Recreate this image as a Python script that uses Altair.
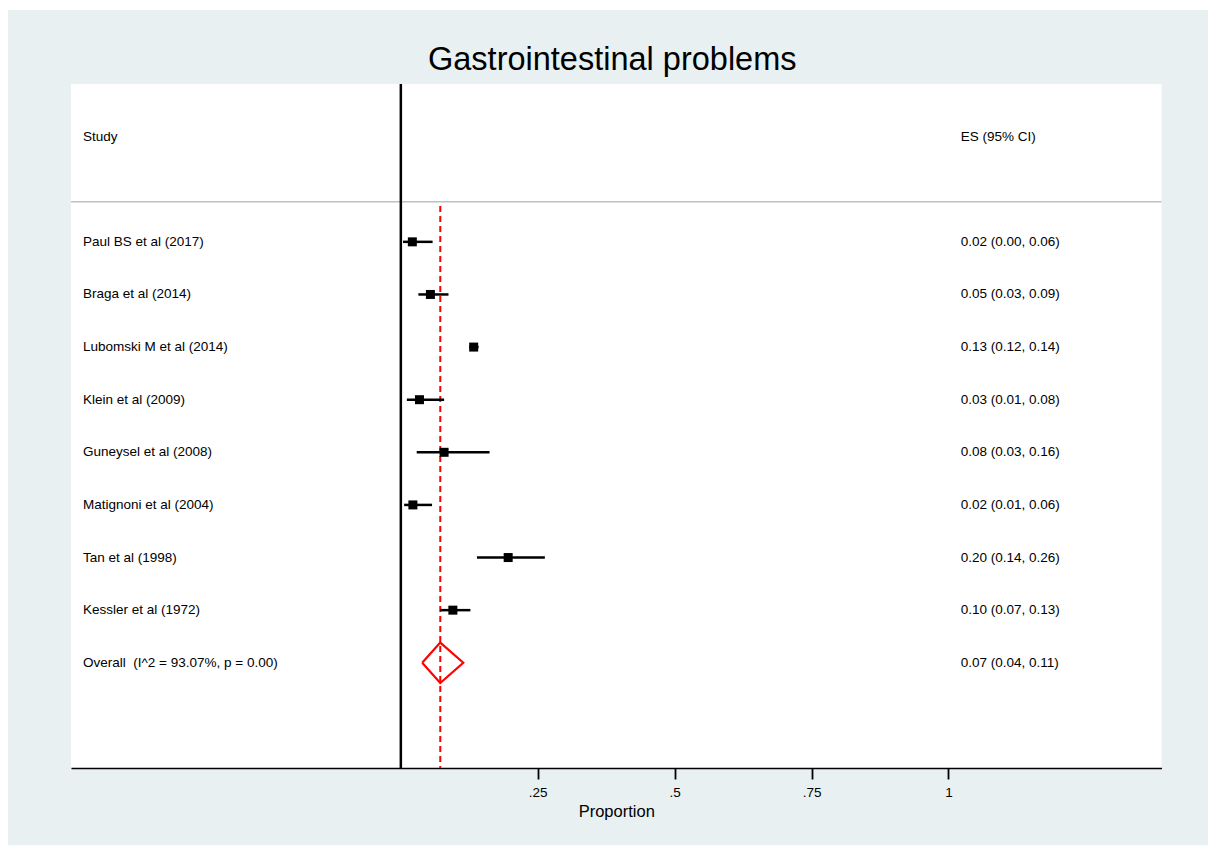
import altair as alt
import pandas as pd

# ---------------- data ----------------
STUDIES = ["Paul BS et al (2017)", "Braga et al (2014)", "Lubomski M et al (2014)",
           "Klein et al (2009)", "Guneysel et al (2008)", "Matignoni et al (2004)",
           "Tan et al (1998)", "Kessler et al (1972)"]
ES = [0.021, 0.054, 0.133, 0.034, 0.079, 0.022, 0.196, 0.095]
LO = [0.004, 0.032, 0.125, 0.011, 0.029, 0.006, 0.139, 0.072]
HI = [0.058, 0.087, 0.142, 0.079, 0.162, 0.057, 0.263, 0.127]
ES_LABELS = ["0.02 (0.00, 0.06)", "0.05 (0.03, 0.09)", "0.13 (0.12, 0.14)",
             "0.03 (0.01, 0.08)", "0.08 (0.03, 0.16)", "0.02 (0.01, 0.06)",
             "0.20 (0.14, 0.26)", "0.10 (0.07, 0.13)"]
OVERALL_NAME = "Overall \u00a0(I^2 = 93.07%, p = 0.00)"
OVERALL_ES = 0.072
OVERALL_LO = 0.039
OVERALL_HI = 0.114
OVERALL_LABEL = "0.07 (0.04, 0.11)"
HEADERS = ["Study", "ES (95% CI)"]
TICK_VALUES = [0.25, 0.5, 0.75, 1]
TICK_LABELS = [".25", ".5", ".75", "1"]
TITLE = "Gastrointestinal problems"
X_TITLE = "Proportion"

# ---------------- layout constants ----------------
FONT = "Liberation Sans"
W, H = 1090.5, 684
PAD_L, PAD_T, PAD_R, PAD_B = 71, 84, 46.5, 77
XMIN, XMAX = -0.6023, 1.389
YMIN, YMAX = -2, 11
STUDY_X = -0.5804
ES_X = 1.0225
HEADER_ROW = -1
HEADER_LINE_ROW = 0.24
OVERALL_ROW = 9
DIAMOND_HALF = 0.384
PANEL = "#e8f0f2"

rows = list(range(1, len(STUDIES) + 1))
studies = pd.DataFrame({"row": rows, "study": STUDIES, "es": ES, "lo": LO, "hi": HI,
                        "label": ES_LABELS})
left_text = pd.DataFrame({"row": [HEADER_ROW] + rows + [OVERALL_ROW],
                          "txt": [HEADERS[0]] + STUDIES + [OVERALL_NAME],
                          "x": [STUDY_X] * (len(rows) + 2)})
right_text = pd.DataFrame({"row": [HEADER_ROW] + rows + [OVERALL_ROW],
                           "txt": [HEADERS[1]] + ES_LABELS + [OVERALL_LABEL],
                           "x": [ES_X] * (len(rows) + 2)})
diamond = pd.DataFrame({
    "x": [OVERALL_LO, OVERALL_ES, OVERALL_HI, OVERALL_ES, OVERALL_LO],
    "row": [OVERALL_ROW, OVERALL_ROW - DIAMOND_HALF, OVERALL_ROW,
            OVERALL_ROW + DIAMOND_HALF, OVERALL_ROW],
    "o": [0, 1, 2, 3, 4]})
one = pd.DataFrame({"a": [0]})

label_expr = " : ".join(
    f"datum.value == {v} ? '{l}'" for v, l in zip(TICK_VALUES, TICK_LABELS)) + " : ''"

XAX = alt.Axis(values=TICK_VALUES, labelExpr=label_expr, grid=False,
               domainColor="black", domainWidth=1.5, tickColor="black", tickWidth=1.8,
               tickSize=11, labelFont=FONT, labelFontSize=13.5, labelColor="black",
               labelPadding=6, title=X_TITLE, titleFont=FONT, titleFontSize=16.5,
               titleFontWeight="normal", titleColor="black", titlePadding=5,
               labelFlush=False)
xs = alt.Scale(domain=[XMIN, XMAX], nice=False, zero=False)
ys = alt.Scale(domain=[YMIN, YMAX], nice=False, zero=False, reverse=True)


def X(field):
    return alt.X(field, type="quantitative", scale=xs, axis=XAX, title=X_TITLE)


def Y(field="row"):
    return alt.Y(field, type="quantitative", scale=ys, axis=None)


# white margins at top and left of the canvas
margin_top = alt.Chart(one).mark_rect(color="white").encode(
    x=alt.value(-PAD_L), x2=alt.value(W + PAD_R), y=alt.value(-PAD_T), y2=alt.value(-PAD_T + 10))
margin_left = alt.Chart(one).mark_rect(color="white").encode(
    x=alt.value(-PAD_L), x2=alt.value(-PAD_L + 8), y=alt.value(-PAD_T), y2=alt.value(H + PAD_B))

header_line = alt.Chart(pd.DataFrame({"x": [XMIN], "x2": [XMAX], "row": [HEADER_LINE_ROW]})) \
    .mark_rule(color="#c0c0c0", strokeWidth=1.5).encode(x=X("x"), x2="x2", y=Y())

zero_line = alt.Chart(pd.DataFrame({"x": [0], "r1": [YMIN], "r2": [YMAX]})) \
    .mark_rule(color="black", strokeWidth=2.5).encode(x=X("x"), y=Y("r1"), y2="r2")

overall_line = alt.Chart(pd.DataFrame({"x": [OVERALL_ES], "r1": [0.32], "r2": [YMAX]})) \
    .mark_rule(color="#ff0000", strokeWidth=2, strokeDash=[6, 4]).encode(
        x=X("x"), y=Y("r1"), y2="r2")

ci = alt.Chart(studies).mark_rule(color="black", strokeWidth=2.5).encode(
    x=X("lo"), x2="hi", y=Y())

squares = alt.Chart(studies).mark_square(size=81, color="black", opacity=1).encode(
    x=X("es"), y=Y())

dia = alt.Chart(diamond).mark_line(color="#ff0000", strokeWidth=2.2).encode(
    x=X("x"), y=Y(), order="o:Q")

ltext = alt.Chart(left_text).mark_text(align="left", baseline="middle", font=FONT,
                                       fontSize=13.5, color="black").encode(
    x=X("x"), y=Y(), text="txt:N")
rtext = alt.Chart(right_text).mark_text(align="left", baseline="middle", font=FONT,
                                        fontSize=13.5, color="black").encode(
    x=X("x"), y=Y(), text="txt:N")

chart = alt.layer(margin_top, margin_left, header_line, zero_line, overall_line, ci,
                  squares, dia, ltext, rtext).properties(
    width=W, height=H,
    title=alt.TitleParams(TITLE, font=FONT, fontSize=32.5, fontWeight="normal",
                          color="black", anchor="middle", offset=10, dy=86, dx=-4),
    autosize=alt.AutoSizeParams(type="none"),
    padding={"left": PAD_L, "top": PAD_T, "right": PAD_R, "bottom": PAD_B},
    background=PANEL,
).configure_view(stroke=None, fill="white")

chart.save("out.html", embed_options={"renderer": "svg", "actions": False})
